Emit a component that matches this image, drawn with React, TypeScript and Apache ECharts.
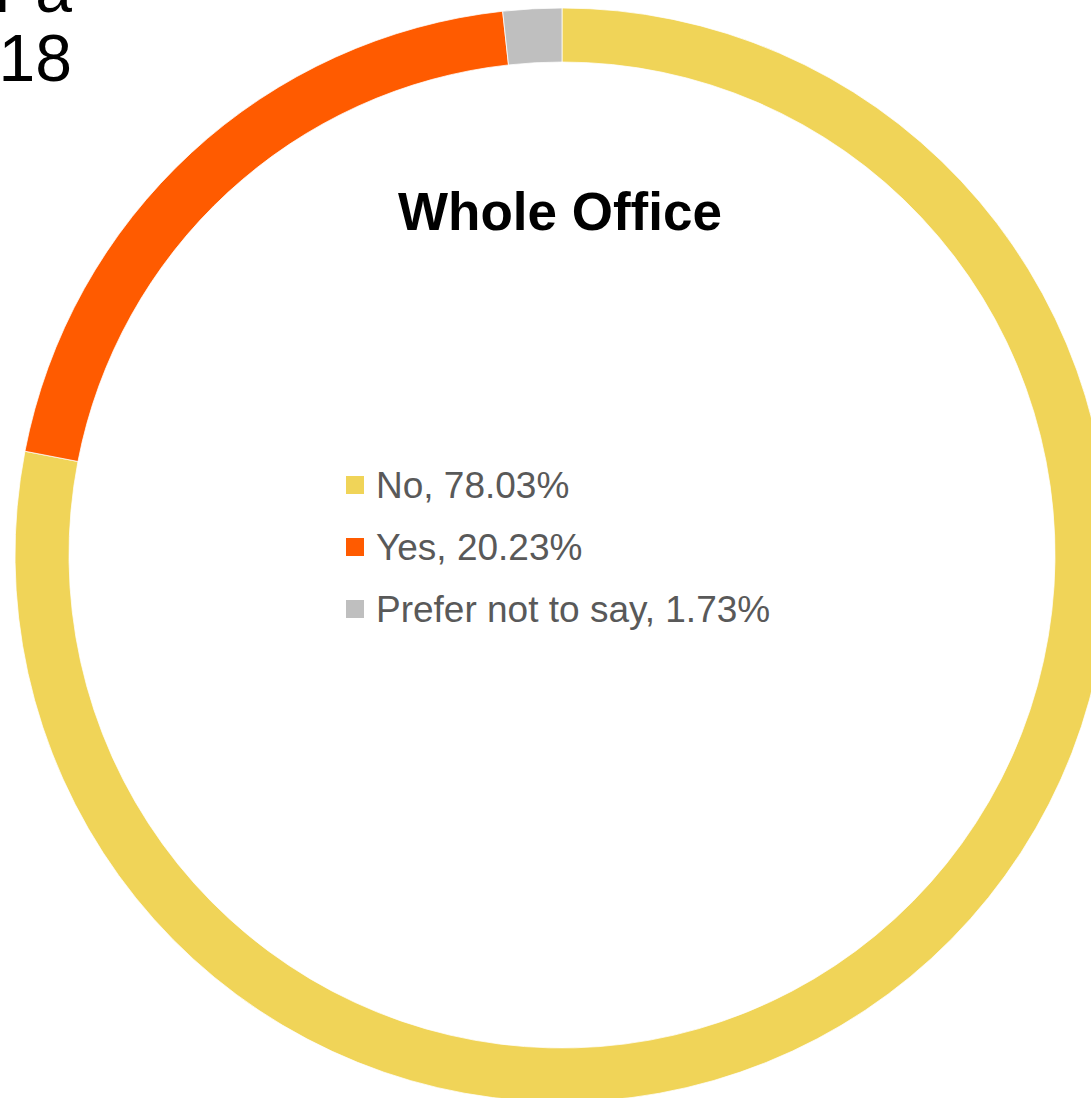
import React, { useEffect, useRef } from "react";
import * as echarts from "echarts";

const categories = ["No", "Yes", "Prefer not to say"];
const values = [78.03, 20.23, 1.73];
const colors = ["#F0D458", "#FF5B00", "#BFBFBF"];
const chartTitle = "Whole Office";
const cornerLines = ["r a", "18"];

export default function App() {
  const ref = useRef<HTMLDivElement>(null);
  useEffect(() => {
    document.body.style.margin = "0";
    const chart = echarts.init(ref.current!, null, { renderer: "svg" });
    const font = "Liberation Sans, Arial, sans-serif";
    chart.setOption({
      animation: false,
      backgroundColor: "#ffffff",
      legend: {
        orient: "vertical",
        left: 339,
        top: 460,
        icon: "rect",
        itemWidth: 20,
        itemHeight: 20,
        itemGap: 22,
        selectedMode: false,
        data: categories,
        formatter: (name: string) => {
          const i = categories.indexOf(name);
          return `${name}, ${values[i].toFixed(2)}%`;
        },
        textStyle: {
          color: "#595959",
          fontSize: 37,
          fontFamily: font,
          lineHeight: 40,
          padding: [0, 0, 0, 6],
        },
      },
      graphic: [
        {
          type: "text",
          x: 560,
          y: 211,
          style: {
            text: chartTitle,
            fill: "#000",
            font: `bold 53px ${font}`,
            align: "center",
            verticalAlign: "middle",
          },
        },
        {
          type: "text",
          x: 72,
          y: -11,
          style: {
            text: cornerLines[0],
            fill: "#000",
            font: `66px ${font}`,
            align: "right",
            verticalAlign: "middle",
          },
        },
        {
          type: "text",
          x: 72,
          y: 58,
          style: {
            text: cornerLines[1],
            fill: "#000",
            font: `66px ${font}`,
            align: "right",
            verticalAlign: "middle",
          },
        },
      ],
      series: [
        {
          type: "pie",
          center: [562, 555],
          radius: [493, 547],
          startAngle: 90,
          clockwise: true,
          silent: true,
          label: { show: false },
          labelLine: { show: false },
          itemStyle: { borderColor: "#ffffff", borderWidth: 0.75 },
          data: categories.map((c, i) => ({
            name: c,
            value: values[i],
            itemStyle: { color: colors[i] },
          })),
        },
      ],
    });
    return () => chart.dispose();
  }, []);
  return <div ref={ref} style={{ width: 1091, height: 1098 }} />;
}
